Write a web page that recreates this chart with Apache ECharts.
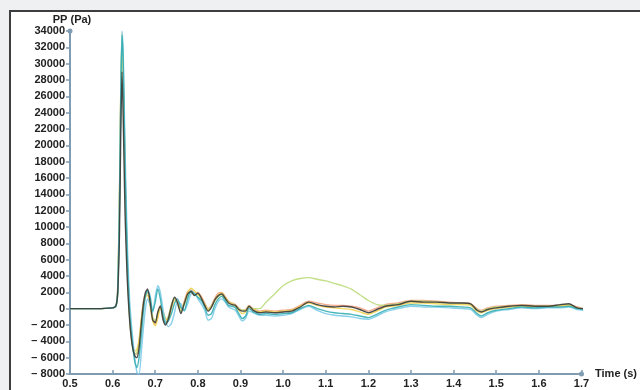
<!DOCTYPE html>
<html>
<head>
<meta charset="utf-8">
<script src="https://cdn.jsdelivr.net/npm/echarts@6/dist/echarts.min.js"></script>
<style>
  html, body { margin: 0; padding: 0; width: 640px; height: 390px; background: #eff0f2; overflow: hidden; }
  #frame { position: absolute; left: 9px; top: 10px; right: 0; bottom: 0; background: #ffffff;
           border-left: 2px solid #3d3d3d; border-top: 2px solid #3d3d3d; }
  #chart { position: absolute; left: 0; top: 0; width: 640px; height: 390px; }
</style>
</head>
<body>
<div id="frame"></div>
<div id="chart"></div>
<script>
// Time samples (s), shared by every pressure trace
const time = [
  0.50, 0.56, 0.600, 0.608, 0.612, 0.616, 0.619, 0.622, 0.625, 0.629, 0.634,
  0.640, 0.646, 0.652, 0.657, 0.662, 0.667, 0.672, 0.677, 0.682,
  0.688, 0.694, 0.700, 0.706, 0.712, 0.718, 0.724, 0.731, 0.738, 0.745,
  0.752, 0.760, 0.768, 0.776, 0.784, 0.792, 0.800, 0.808, 0.816, 0.824,
  0.832, 0.840, 0.848, 0.856, 0.864, 0.872, 0.880, 0.888, 0.896, 0.904,
  0.912, 0.920, 0.930, 0.945, 0.960, 0.980, 1.000, 1.020, 1.040, 1.060,
  1.080, 1.100, 1.120, 1.140, 1.160, 1.180, 1.200, 1.220, 1.240, 1.270,
  1.300, 1.330, 1.360, 1.390, 1.420, 1.440, 1.455, 1.465, 1.480, 1.500,
  1.530, 1.560, 1.590, 1.620, 1.650, 1.670, 1.690, 1.705
];

// Pressure traces (Pa)
const ppLightBlue = [
  0, 0, 100, 400, 2500, 13000, 26000, 34000, 31000, 20000, 9000,
  1000, -3000, -6000, -7800, -8000, -5500, -2500, 0, 1200,
  500, -500, 1500, 2800, 2000, 0, -1500, -2200, -1800, -500,
  800, 600, -300, 600, 1800, 1900, 1200, 600, -200, -1400,
  -1200, 0, 900, 1200, 800, 200, 0, -200, -900, -1500,
  -1200, -300, -500, -800, -800, -900, -800, -600, -100, 300,
  -200, -600, -800, -900, -1000, -1200, -1300, -900, -400, 0,
  300, 200, 200, 100, 0, -100, -800, -1100, -700, -300,
  -100, 100, 0, 100, 100, 200, -100, -200
];
const ppTeal = [
  0, 0, 100, 300, 2000, 12000, 25000, 33500, 30000, 18000, 7000,
  -500, -4000, -6500, -7200, -6000, -3500, -500, 1500, 2200,
  1500, -300, 800, 2400, 1200, -800, -1800, -1500, -600, 600,
  1200, 200, -200, 1200, 2200, 1800, 1400, 1000, 200, -800,
  -600, 500, 1200, 1500, 1000, 400, 300, 100, -600, -1200,
  -900, 0, -400, -700, -600, -700, -600, -500, 0, 400,
  0, -300, -500, -600, -700, -900, -1100, -700, -200, 200,
  500, 400, 300, 300, 200, 100, -600, -900, -500, -200,
  0, 200, 100, 200, 200, 300, 0, -100
];
const ppYellow = [
  0, 0, 100, 300, 2200, 12500, 26000, 33800, 29000, 17000, 6500,
  -800, -4000, -5200, -5000, -3800, -1500, 500, 1500, 1600,
  300, -1500, -2100, -1200, 0, -300, -1200, -1400, 0, 1000,
  900, 0, 700, 1900, 2500, 2200, 1700, 1300, 500, -200,
  300, 1000, 1700, 1900, 1400, 800, 600, 300, -200, -600,
  -400, 200, -100, -400, -300, -400, -300, -200, 300, 700,
  400, 200, 100, 0, -100, -400, -700, -300, 200, 400,
  700, 700, 600, 500, 500, 400, -300, -500, -200, 0,
  200, 300, 200, 300, 300, 400, 100, -100
];
const ppOrange = [
  0, 0, 100, 350, 2800, 14000, 25500, 31000, 27000, 16000, 6000,
  -1000, -4200, -5500, -5600, -4200, -1500, 800, 1800, 1900,
  600, -1200, -1900, -800, 400, -600, -1700, -1000, 500, 1200,
  600, -300, 900, 2100, 2300, 1900, 2000, 1500, 700, 0,
  400, 1300, 1900, 2000, 1500, 900, 700, 500, 100, -200,
  -100, 400, 0, -300, -200, -300, -200, -100, 400, 900,
  700, 500, 400, 400, 300, 100, -300, 100, 500, 700,
  1000, 1000, 900, 800, 700, 600, 0, -200, 100, 300,
  400, 500, 400, 400, 400, 500, 200, 0
];
const ppGreen = [
  0, 0, 100, 350, 2600, 13500, 26500, 32500, 28000, 16500, 6000,
  -1200, -4400, -5600, -5400, -4000, -1800, 300, 1600, 2100,
  900, -1000, -1500, -600, 200, -900, -1600, -900, 400, 1300,
  700, -400, 500, 1600, 2000, 1700, 1800, 1200, 500, -100,
  300, 1000, 1500, 1700, 1200, 800, 600, 400, 0, -200,
  -200, 300, 0, 0, 800, 1800, 2800, 3400, 3700, 3800,
  3600, 3400, 3100, 2800, 2400, 1700, 1000, 500, 400, 600,
  900, 900, 800, 700, 600, 500, -100, -300, 0, 200,
  300, 400, 300, 300, 400, 500, 100, 0
];
const ppBlack = [
  0, 0, 100, 400, 2000, 9000, 21000, 29000, 23000, 12000, 4000,
  -1500, -4500, -5800, -6000, -4800, -2000, 500, 2000, 2400,
  800, -1400, -1700, -400, 300, -1300, -2000, -1200, 300, 1400,
  800, -600, 600, 1800, 2100, 1600, 1900, 1300, 400, -300,
  200, 1100, 1600, 1800, 1300, 700, 500, 400, -100, -300,
  -300, 300, -200, -500, -400, -500, -400, -300, 200, 800,
  500, 300, 200, 300, 200, -100, -500, -100, 300, 500,
  900, 800, 800, 700, 700, 600, -200, -400, -100, 100,
  300, 400, 300, 300, 500, 600, 100, 0
];

// Axis ticks
const xMin = 0.5, xMax = 1.7, xStep = 0.1;
const yMin = -8000, yMax = 34000, yStep = 2000;

const traces = [
  { name: 'Run 1', values: ppOrange,    color: '#f2a27f' },
  { name: 'Run 2', values: ppGreen,     color: '#bddb7b' },
  { name: 'Run 3', values: ppYellow,    color: '#f1d351' },
  { name: 'Run 4', values: ppLightBlue, color: '#7ccbe8' },
  { name: 'Run 5', values: ppTeal,      color: '#35aeb3' },
  { name: 'Run 6', values: ppBlack,     color: '#3a3a3a' }
];

const axisColor = '#7f9cb3';
const labelFont = { fontFamily: 'Liberation Sans, Arial, sans-serif', fontWeight: 'bold', fontSize: 11, color: '#222' };

const chart = echarts.init(document.getElementById('chart'), null, { renderer: 'canvas' });
chart.setOption({
  backgroundColor: 'transparent',
  animation: false,
  grid: { left: 70, right: 53, top: 31, bottom: 16, containLabel: false },
  xAxis: {
    type: 'value', min: xMin, max: xMax, interval: xStep,
    name: 'Time (s)', nameLocation: 'end', nameGap: 4,
    nameTextStyle: Object.assign({}, labelFont, { align: 'left', verticalAlign: 'middle' }),
    axisLine: { show: true, onZero: false, symbol: ['none', 'circle'], symbolSize: [5, 5], lineStyle: { color: axisColor, width: 2 } },
    axisTick: { show: true, inside: true, length: 4, lineStyle: { color: axisColor, width: 1.5 } },
    axisLabel: Object.assign({}, labelFont, { margin: 4, formatter: v => v.toFixed(1) }),
    splitLine: { show: false }
  },
  yAxis: {
    type: 'value', min: yMin, max: yMax, interval: yStep,
    name: 'PP (Pa)', nameLocation: 'end', nameGap: 5,
    nameTextStyle: Object.assign({}, labelFont, { align: 'center', padding: [0, 0, 0, 4] }),
    axisLine: { show: true, onZero: false, symbol: ['none', 'circle'], symbolSize: [5, 5], lineStyle: { color: axisColor, width: 2 } },
    axisTick: { show: true, inside: false, length: 4, lineStyle: { color: axisColor, width: 1.5 } },
    axisLabel: Object.assign({}, labelFont, { margin: 5, formatter: v => (v < 0 ? '\u2013 ' + Math.abs(v) : String(v)) }),
    splitLine: { show: false }
  },
  series: traces.map(tr => ({
    type: 'line',
    name: tr.name,
    data: time.map((t, i) => [t, tr.values[i]]),
    showSymbol: false,
    smooth: 0.25,
    clip: true,
    lineStyle: { color: tr.color, width: 1.4, opacity: 0.9 },
    itemStyle: { color: tr.color }
  }))
});
</script>
</body>
</html>
